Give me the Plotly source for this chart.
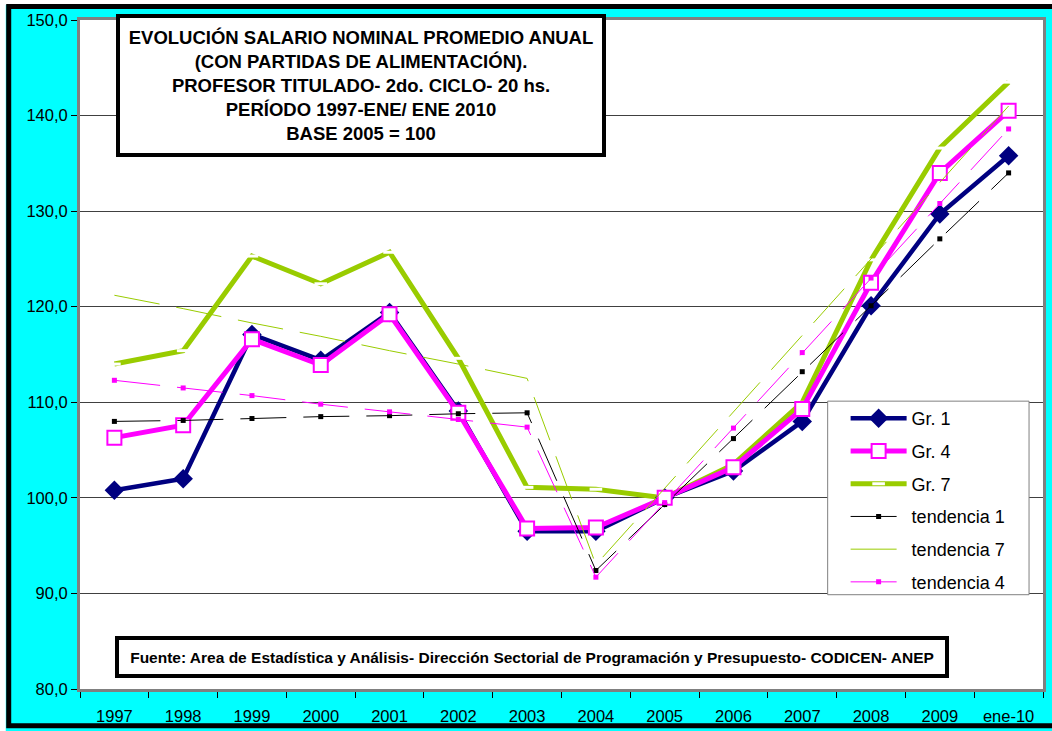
import plotly.graph_objects as go

categories = ["1997", "1998", "1999", "2000", "2001", "2002", "2003", "2004",
              "2005", "2006", "2007", "2008", "2009", "ene-10"]

gr1 = [100.8, 102.0, 117.1, 114.4, 119.4, 109.1, 96.5, 96.5, 100.0, 102.8, 108.0, 120.1, 129.7, 135.8]
gr4 = [106.3, 107.6, 116.6, 113.9, 119.2, 108.9, 96.8, 96.9, 100.0, 103.2, 109.3, 122.5, 134.0, 140.5]
gr7 = [114.0, 115.4, 125.3, 122.4, 125.7, 114.6, 101.1, 100.9, 100.0, 103.5, 110.0, 124.9, 136.6, 143.5]
tend1 = [108.0, 108.1, 108.3, 108.5, 108.6, 108.8, 108.9, 92.4, 99.3, 106.2, 113.2, 120.1, 127.1, 134.0]
tend7 = [121.2, 119.8, 118.3, 116.9, 115.4, 114.0, 112.5, 93.0, 101.0, 109.0, 117.0, 125.0, 133.0, 141.0]
tend4 = [112.3, 111.5, 110.7, 109.8, 109.0, 108.2, 107.4, 91.7, 99.5, 107.3, 115.2, 123.0, 130.8, 138.6]

title_lines = ["EVOLUCIÓN SALARIO NOMINAL PROMEDIO ANUAL",
               "(CON PARTIDAS DE ALIMENTACIÓN).",
               "PROFESOR TITULADO- 2do. CICLO- 20 hs.",
               "PERÍODO 1997-ENE/ ENE 2010",
               "BASE 2005 = 100"]
source_text = ("Fuente: Area de Estadística y Análisis- Dirección Sectorial de "
               "Programación y Presupuesto- CODICEN- ANEP")

FONT = "Liberation Sans, Arial, sans-serif"
NAVY = "#000080"
MAGENTA = "#FF00FF"
GREEN = "#99CC00"
DASH = "46px,17px"

fig = go.Figure()

fig.add_trace(go.Scatter(
    x=categories, y=gr7, name="Gr. 7", mode="lines+markers", legendrank=3,
    legendgroup="g7",
    line=dict(color=GREEN, width=5),
    marker=dict(symbol="line-ew", size=9, color="white",
                line=dict(color="white", width=3))))
fig.add_trace(go.Scatter(
    x=categories, y=gr1, name="Gr. 1", mode="lines+markers", legendrank=1,
    legendgroup="g1",
    line=dict(color=NAVY, width=4.5),
    marker=dict(symbol="diamond", size=15, color=NAVY)))
fig.add_trace(go.Scatter(
    x=categories, y=gr4, name="Gr. 4", mode="lines+markers", legendrank=2,
    legendgroup="g4",
    line=dict(color=MAGENTA, width=5),
    marker=dict(symbol="square", size=14, color="white",
                line=dict(color=MAGENTA, width=2))))
fig.add_trace(go.Scatter(
    x=categories, y=tend1, name="tendencia 1", mode="lines+markers", legendrank=4,
    legendgroup="t1",
    line=dict(color="black", width=1, dash=DASH),
    marker=dict(symbol="square", size=5, color="black")))
fig.add_trace(go.Scatter(
    x=categories, y=tend7, name="tendencia 7", mode="lines", legendrank=5,
    legendgroup="t7",
    line=dict(color=GREEN, width=1, dash=DASH)))
fig.add_trace(go.Scatter(
    x=categories, y=tend4, name="tendencia 4", mode="lines+markers", legendrank=6,
    legendgroup="t4",
    line=dict(color=MAGENTA, width=1, dash=DASH),
    marker=dict(symbol="square", size=5, color=MAGENTA)))

L, R, T, B = 80, 6, 20, 37
W, H = 1052, 731
PW, PH = W - L - R, H - T - B

def px(x):
    return (x - L) / PW

def py(y):
    return (H - B - y) / PH

fig.update_layout(
    width=W, height=H,
    margin=dict(l=L, r=R, t=T, b=B, pad=0),
    paper_bgcolor="#00FFFF",
    plot_bgcolor="white",
    separators=",.",
    font=dict(family=FONT, color="black", size=16),
    showlegend=True,
    legend=dict(
        x=px(848), y=py(403), xanchor="left", yanchor="top",
        bgcolor="rgba(0,0,0,0)", borderwidth=0,
        font=dict(family=FONT, size=18, color="black"),
        tracegroupgap=6.3, traceorder="grouped",
        itemwidth=56,
    ),
    xaxis=dict(
        type="category", categoryorder="array", categoryarray=categories,
        range=[-0.5, len(categories) - 0.5],
        tickson="boundaries", ticks="outside", ticklen=6, tickcolor="black",
        tickfont=dict(family=FONT, size=16.5, color="black"),
        ticklabelstandoff=10,
        showgrid=False, showline=True, linecolor="#808080", linewidth=3,
        mirror=True, zeroline=False,
    ),
    yaxis=dict(
        range=[80, 150], dtick=10, tickformat=".1f",
        ticks="outside", ticklen=6, tickcolor="black",
        tickfont=dict(family=FONT, size=16.5, color="black"),
        showgrid=True, gridcolor="#404040", gridwidth=1,
        showline=True, linecolor="#808080", linewidth=3, mirror=True,
        zeroline=False,
    ),
)

# legend frame
fig.add_shape(type="rect", xref="paper", yref="paper", layer="above",
              x0=px(830), x1=px(1032), y0=py(599), y1=py(404),
              line=dict(color="#808080", width=1), fillcolor="white")

fig.add_annotation(
    xref="paper", yref="paper", x=px(362), y=py(85.5),
    xanchor="center", yanchor="middle",
    text="<br>".join("<b>%s</b>" % s for s in title_lines),
    showarrow=False, align="center",
    font=dict(family=FONT, size=18.5, color="black"),
    bgcolor="white", bordercolor="black", borderwidth=4, borderpad=0,
    width=482, height=135,
)

fig.add_annotation(
    xref="paper", yref="paper", x=px(533), y=py(662),
    xanchor="center", yanchor="middle",
    text="<b>%s</b>" % source_text,
    showarrow=False, align="center",
    font=dict(family=FONT, size=15.5, color="black"),
    bgcolor="white", bordercolor="black", borderwidth=4, borderpad=0,
    width=826, height=34,
)

# white margin outside the frame, then black outer frame
fig.add_shape(type="rect", xref="paper", yref="paper", layer="above",
              x0=px(1), x1=px(1070), y0=py(760), y1=py(0),
              line=dict(color="white", width=9), fillcolor="rgba(0,0,0,0)")
fig.add_shape(type="rect", xref="paper", yref="paper", layer="above",
              x0=px(8.5), x1=px(1062), y0=py(731), y1=py(6.5),
              line=dict(color="black", width=5), fillcolor="rgba(0,0,0,0)")

fig.write_html("out.html", config={"displayModeBar": False},
               post_script="document.body.style.margin='0px';")
